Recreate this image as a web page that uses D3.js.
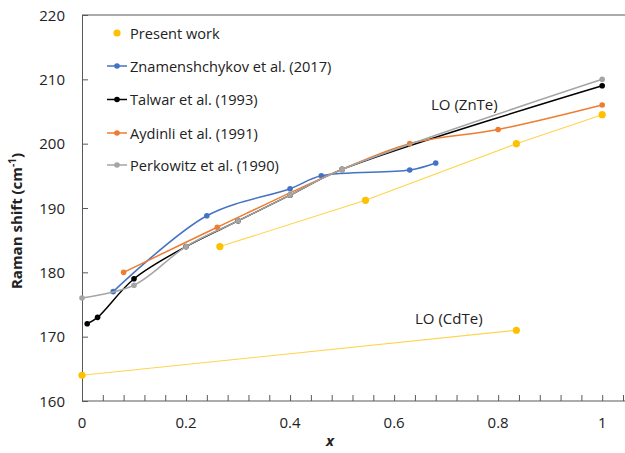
<!DOCTYPE html>
<html>
<head>
<meta charset="utf-8">
<script src="https://cdn.jsdelivr.net/npm/d3@7"></script>
<style>
  body { margin: 0; background: #fff; }
  text { font-family: "Open Sans", sans-serif; fill: #222; }
</style>
</head>
<body>
<svg width="625" height="453"></svg>
<script>
// values
let presentZnTe = [[0.265, 184], [0.545, 191.2], [0.835, 200], [1, 204.5]];
let presentCdTe = [[0, 164], [0.835, 171]];
let znamenshchykov = [[0.06, 177], [0.24, 188.8], [0.4, 193], [0.46, 195], [0.63, 195.9], [0.68, 197]];
let talwar = [[0.01, 172], [0.03, 173], [0.1, 179], [0.2, 184], [0.3, 188], [0.4, 192], [0.5, 196], [1, 209]];
let aydinli = [[0.08, 180], [0.26, 187], [0.5, 196], [0.63, 200], [0.8, 202.2], [1, 206]];
let perkowitz = [[0, 176], [0.1, 178], [0.2, 184], [0.3, 188], [0.4, 192], [0.5, 196], [1, 210]];
let legendNames = ['Present work', 'Znamenshchykov et al. (2017)', 'Talwar et al. (1993)', 'Aydinli et al. (1991)', 'Perkowitz et al. (1990)'];
let xTicks = [0, 0.2, 0.4, 0.6, 0.8, 1];
let yTicks = [160, 170, 180, 190, 200, 210, 220];

let svg = d3.select('svg');
let padL = 82, padR = 623, padT = 15, padB = 401;
let fs = 15;

let xScale = d3.scaleLinear().domain([0, 1.04]).range([padL, padR]);
let yScale = d3.scaleLinear().domain([160, 220]).range([padB, padT]);

// frame: top line, y axis, x axis
svg.append('line')
    .attr('x1', padL).attr('x2', 625)
    .attr('y1', padT).attr('y2', padT)
    .attr('stroke', '#595959').attr('stroke-width', 1);

let xAxis = d3.axisBottom(xScale)
    .tickValues(d3.range(0, 27).map(i => i * 0.04))
    .tickSizeInner(-6).tickSizeOuter(0)
    .tickFormat('');
let xg = svg.append('g')
    .attr('transform', 'translate(0,' + padB + ')')
    .call(xAxis);
xg.select('.domain').attr('d', 'M' + padL + ',0H625');

let yAxis = d3.axisLeft(yScale)
    .tickValues(yTicks)
    .tickSizeInner(-6).tickSizeOuter(0)
    .tickFormat('');
let yg = svg.append('g')
    .attr('transform', 'translate(' + padL + ',0)')
    .call(yAxis);

svg.selectAll('.domain, .tick line').attr('stroke', '#595959');

svg.selectAll('.xlab')
    .data(xTicks)
    .enter()
    .append('text')
    .attr('x', d => xScale(d))
    .attr('y', 428)
    .attr('text-anchor', 'middle')
    .attr('font-size', fs)
    .text(d => d);

svg.selectAll('.ylab')
    .data(yTicks)
    .enter()
    .append('text')
    .attr('x', 65)
    .attr('y', d => yScale(d) + 5.5)
    .attr('text-anchor', 'end')
    .attr('font-size', fs)
    .text(d => d);

svg.append('text')
    .attr('x', 330).attr('y', 446)
    .attr('text-anchor', 'middle')
    .attr('font-size', fs)
    .attr('font-weight', 'bold')
    .attr('font-style', 'italic')
    .text('x');

let yt = svg.append('text')
    .attr('transform', 'translate(22,221) rotate(-90)')
    .attr('text-anchor', 'middle')
    .attr('font-size', fs)
    .attr('font-weight', 'bold');
yt.append('tspan').text('Raman shift (cm');
yt.append('tspan').attr('font-size', 10).attr('dy', -6).text('-1');
yt.append('tspan').attr('dy', 6).text(')');

// series
let smooth = d3.line()
    .x(d => xScale(d[0]))
    .y(d => yScale(d[1]))
    .curve(d3.curveCatmullRom.alpha(0.5));
let straight = d3.line()
    .x(d => xScale(d[0]))
    .y(d => yScale(d[1]));

let series = [
    { data: talwar, color: '#000000' },
    { data: znamenshchykov, color: '#4472C4' },
    { data: aydinli, color: '#ED7D31' },
    { data: perkowitz, color: '#A5A5A5' }
];

series.forEach(s => {
    svg.append('path')
        .attr('d', smooth(s.data))
        .attr('fill', 'none')
        .attr('stroke', s.color)
        .attr('stroke-width', 1.5);
    svg.selectAll(null)
        .data(s.data)
        .enter()
        .append('circle')
        .attr('cx', d => xScale(d[0]))
        .attr('cy', d => yScale(d[1]))
        .attr('r', 2.8)
        .attr('fill', s.color);
});

[presentZnTe, presentCdTe].forEach(data => {
    svg.append('path')
        .attr('d', straight(data))
        .attr('fill', 'none')
        .attr('stroke', '#FFD44D')
        .attr('stroke-width', 1.1);
    svg.selectAll(null)
        .data(data)
        .enter()
        .append('circle')
        .attr('cx', d => xScale(d[0]))
        .attr('cy', d => yScale(d[1]))
        .attr('r', 3.6)
        .attr('fill', '#FFC000');
});

svg.append('text').attr('x', 431).attr('y', 110).attr('font-size', fs).text('LO (ZnTe)');
svg.append('text').attr('x', 415).attr('y', 324).attr('font-size', fs).text('LO (CdTe)');

// legend
let legendColors = ['#FFC000', '#4472C4', '#000000', '#ED7D31', '#A5A5A5'];
let legendY = [33, 66, 99.5, 133, 165];
legendNames.forEach((name, i) => {
    let y = legendY[i];
    if (i > 0) {
        svg.append('line')
            .attr('x1', 107).attr('x2', 127)
            .attr('y1', y).attr('y2', y)
            .attr('stroke', legendColors[i]).attr('stroke-width', 1.5);
    }
    svg.append('circle')
        .attr('cx', 117).attr('cy', y)
        .attr('r', i == 0 ? 3.6 : 2.8)
        .attr('fill', legendColors[i]);
    svg.append('text')
        .attr('x', 130).attr('y', y + 5.5)
        .attr('font-size', 14.6)
        .text(name);
});
</script>
</body>
</html>
